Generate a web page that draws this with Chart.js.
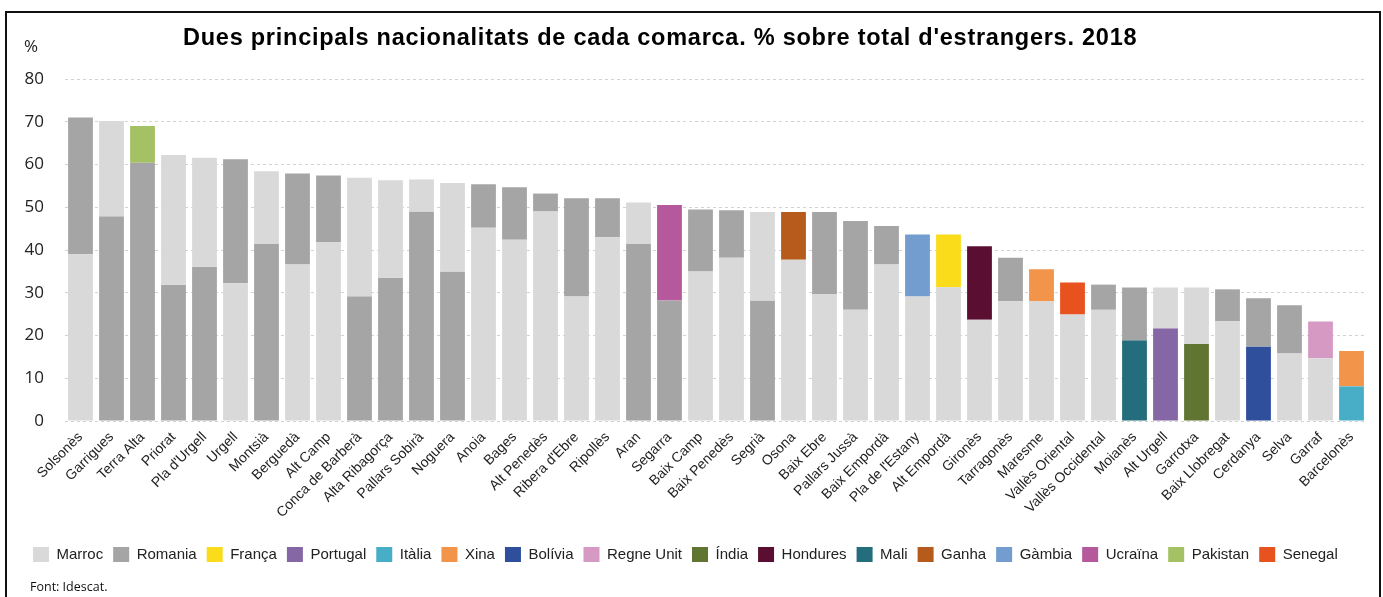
<!DOCTYPE html>
<html><head><meta charset="utf-8">
<script src="https://cdn.jsdelivr.net/npm/chart.js@4"></script>
<style>
html,body{margin:0;padding:0;background:#fff;width:1383px;height:597px;overflow:hidden;}
#frame{position:absolute;left:5px;top:11px;width:1376px;height:700px;border:2px solid #111;box-sizing:border-box;}
#c{position:absolute;left:0;top:0;}
#title{position:absolute;left:183px;top:26px;font:bold 23.5px "Liberation Sans",Arial,sans-serif;letter-spacing:0.75px;line-height:1;color:#000;white-space:nowrap;}
#pct{position:absolute;left:24px;top:37px;font:17px "Open Sans",sans-serif;line-height:1;color:#222;}
#src{position:absolute;left:30px;top:581px;font:12.5px "Open Sans",sans-serif;line-height:1;color:#111;white-space:nowrap;}
</style></head>
<body>
<div id="frame"></div>
<canvas id="c" width="1383" height="597"></canvas>
<div id="title">Dues principals nacionalitats de cada comarca. % sobre total d'estrangers. 2018</div>
<div id="pct">%</div>
<div id="src">Font: Idescat.</div>
<script>
const comarques = ['Solsonès','Garrigues','Terra Alta','Priorat',"Pla d'Urgell",'Urgell','Montsià','Berguedà','Alt Camp','Conca de Barberà','Alta Ribagorça','Pallars Sobirà','Noguera','Anoia','Bages','Alt Penedès',"Ribera d'Ebre",'Ripollès','Aran','Segarra','Baix Camp','Baix Penedès','Segrià','Osona','Baix Ebre','Pallars Jussà','Baix Empordà',"Pla de l'Estany",'Alt Empordà','Gironès','Tarragonès','Maresme','Vallès Oriental','Vallès Occidental','Moianès','Alt Urgell','Garrotxa','Baix Llobregat','Cerdanya','Selva','Garraf','Barcelonès'];

// first (lower) segment of each bar
const nat1 = ['Marroc','Romania','Romania','Romania','Romania','Marroc','Romania','Marroc','Marroc','Romania','Romania','Romania','Romania','Marroc','Marroc','Marroc','Marroc','Marroc','Romania','Romania','Marroc','Marroc','Romania','Marroc','Marroc','Marroc','Marroc','Marroc','Marroc','Marroc','Marroc','Marroc','Marroc','Marroc','Mali','Portugal','Índia','Marroc','Bolívia','Marroc','Marroc','Itàlia'];
const val1 = [39.0,47.9,60.4,31.9,36.1,32.2,41.4,36.6,41.9,29.2,33.5,49.0,35.0,45.2,42.4,49.0,29.1,43.0,41.4,28.2,35.0,38.2,28.2,37.7,29.7,26.0,36.6,29.1,31.3,23.7,28.0,28.0,24.9,26.0,18.9,21.7,18.0,23.3,17.4,15.8,14.7,8.1];

// second (upper) segment of each bar
const nat2 = ['Romania','Marroc','Pakistan','Marroc','Marroc','Romania','Marroc','Romania','Romania','Marroc','Marroc','Marroc','Marroc','Romania','Romania','Romania','Romania','Romania','Marroc','Ucraïna','Romania','Romania','Marroc','Ganha','Romania','Romania','Romania','Gàmbia','França','Hondures','Romania','Xina','Senegal','Romania','Romania','Marroc','Marroc','Romania','Romania','Romania','Regne Unit','Xina'];
const val2 = [32.0,22.3,8.6,30.3,25.5,29.0,17.0,21.3,15.5,27.7,22.8,7.5,20.7,10.2,12.3,4.2,23.0,9.1,9.7,22.3,14.5,11.1,20.7,11.2,19.2,20.8,9.0,14.5,12.3,17.2,10.2,7.5,7.5,5.9,12.3,9.5,13.2,7.5,11.3,11.3,8.6,8.3];

const nacionalitats = ['Marroc','Romania','França','Portugal','Itàlia','Xina','Bolívia','Regne Unit','Índia','Hondures','Mali','Ganha','Gàmbia','Ucraïna','Pakistan','Senegal'];
const colors = ['#d9d9d9','#a5a5a6','#fadc1b','#8567a5','#48aec8','#f29449','#2f4f9d','#d699c3','#617532','#5a0e31','#246d7d','#b65b1c','#729dce','#b6589c','#a4c263','#e8521f'];
const yTicks = [0,10,20,30,40,50,60,70,80];

const datasets = nacionalitats.map((n, k) => ({
  label: n,
  backgroundColor: colors[k],
  borderWidth: 0,
  grouped: false,
  barPercentage: 0.8,
  categoryPercentage: 1.0,
  data: comarques.map((c, i) => {
    if (nat1[i] === n) return [0, val1[i]];
    if (nat2[i] === n) return [val1[i], val1[i] + val2[i]];
    return null;
  })
}));

new Chart(document.getElementById('c'), {
  type: 'bar',
  data: { labels: comarques, datasets },
  options: {
    responsive: false,
    animation: false,
    layout: { padding: { left: 23, right: 16, top: 79, bottom: 25 } },
    plugins: {
      tooltip: { enabled: false },
      title: { display: false },
      legend: {
        position: 'bottom', align: 'start',
        labels: { boxWidth: 16, boxHeight: 15, padding: 10, color: '#222',
          font: { family: 'Liberation Sans', size: 15 } }
      }
    },
    scales: {
      x: {
        grid: { display: false }, border: { display: false },
        ticks: { autoSkip: false, maxRotation: 45, minRotation: 45, padding: 0, color: '#222',
          font: { family: 'Liberation Sans', size: 14 } },
        afterFit(s) { s.height = 116; }
      },
      y: {
        min: 0, max: 80,
        afterBuildTicks(s) { s.ticks = yTicks.map(v => ({ value: v })); },
        ticks: { padding: 21, color: '#222', font: { family: 'Open Sans', size: 17 } },
        grid: { color: '#d2d2d2', drawTicks: false, lineWidth: 1 },
        border: { display: false, dash: [3, 3] },
        afterFit(s) { s.width = 42; }
      }
    }
  }
});
</script>
</body></html>
